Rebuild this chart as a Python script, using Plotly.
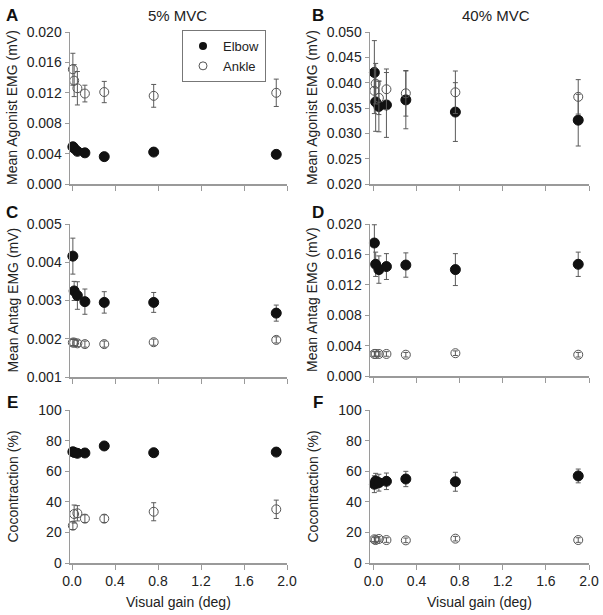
import plotly.graph_objects as go

W, H = 603, 615

# Visual gains (deg)
gain = [0.008, 0.02, 0.05, 0.12, 0.30, 0.76, 1.90]

# A: 5% MVC, mean agonist EMG (mV)
elbow_A = [0.0049, 0.0047, 0.0043, 0.0041, 0.0036, 0.0042, 0.0039]
elbow_A_err = [0.0003, 0.0003, 0.0002, 0.0002, 0.0002, 0.0002, 0.0002]
ankle_A = [0.0151, 0.0136, 0.0126, 0.0119, 0.0121, 0.0116, 0.0120]
ankle_A_err = [0.0021, 0.0021, 0.0022, 0.0011, 0.0014, 0.0015, 0.0018]

# B: 40% MVC, mean agonist EMG (mV)
elbow_B = [0.0420, 0.0362, 0.0353, 0.0356, 0.0366, 0.0342, 0.0326]
elbow_B_err = [0.0063, 0.0058, 0.0050, 0.0064, 0.0057, 0.0058, 0.0051]
ankle_B = [0.0384, 0.0398, 0.0370, 0.0387, 0.0379, 0.0381, 0.0372]
ankle_B_err = [0.0045, 0.0040, 0.0033, 0.0040, 0.0045, 0.0042, 0.0034]

# C: 5% MVC, mean antagonist EMG (mV)
elbow_C = [0.00416, 0.00325, 0.00313, 0.00297, 0.00295, 0.00295, 0.00267]
elbow_C_err = [0.00047, 0.00025, 0.00036, 0.00033, 0.00028, 0.00026, 0.00021]
ankle_C = [0.00190, 0.00190, 0.00188, 0.00186, 0.00186, 0.00191, 0.00197]
ankle_C_err = [0.00008, 0.00008, 0.00008, 0.00008, 0.00008, 0.00008, 0.00008]

# D: 40% MVC, mean antagonist EMG (mV)
elbow_D = [0.0175, 0.0147, 0.0140, 0.0144, 0.0146, 0.0140, 0.0147]
elbow_D_err = [0.0024, 0.0016, 0.0018, 0.0017, 0.0016, 0.0021, 0.0016]
ankle_D = [0.0029, 0.0029, 0.0029, 0.0029, 0.0028, 0.0030, 0.0028]
ankle_D_err = [0.0003, 0.0003, 0.0003, 0.0003, 0.0003, 0.0003, 0.0003]

# E: 5% MVC, cocontraction (%)
elbow_E = [72.7, 72.3, 71.7, 71.9, 76.5, 72.1, 72.5]
elbow_E_err = [1.5, 1.5, 1.5, 1.5, 1.5, 1.5, 2.0]
ankle_E = [24.4, 32.0, 32.5, 29.0, 29.0, 33.5, 35.1]
ankle_E_err = [2.5, 5.9, 5.0, 2.5, 2.5, 5.9, 6.0]

# F: 40% MVC, cocontraction (%)
elbow_F = [51.5, 53.6, 52.5, 53.4, 54.9, 53.1, 56.9]
elbow_F_err = [5.5, 5.0, 5.5, 5.4, 5.0, 6.2, 4.5]
ankle_F = [15.5, 15.0, 15.7, 15.0, 14.8, 15.9, 15.0]
ankle_F_err = [1.5, 1.5, 1.5, 1.5, 1.5, 1.5, 1.5]

x_ticks = [0.0, 0.4, 0.8, 1.2, 1.6, 2.0]
x_ticklabels = ["0.0", "0.4", "0.8", "1.2", "1.6", "2.0"]

FONT = "Liberation Sans, Arial, sans-serif"
AX = "#9a9a9a"
ERR = "#5a5a5a"

panels = [
    ("A", (70, 287), (32, 184), (0, 0.020), 0.004, ".3f", elbow_A, elbow_A_err, ankle_A, ankle_A_err, "Mean Agonist EMG (mV)"),
    ("B", (370, 589), (32, 184), (0.020, 0.050), 0.005, ".3f", elbow_B, elbow_B_err, ankle_B, ankle_B_err, "Mean Agonist EMG (mV)"),
    ("C", (70, 287), (224, 377), (0.001, 0.005), 0.001, ".3f", elbow_C, elbow_C_err, ankle_C, ankle_C_err, "Mean Antag EMG (mV)"),
    ("D", (370, 589), (224, 376), (0, 0.020), 0.004, ".3f", elbow_D, elbow_D_err, ankle_D, ankle_D_err, "Mean Antag EMG (mV)"),
    ("E", (70, 287), (410, 563), (0, 100), 20, "d", elbow_E, elbow_E_err, ankle_E, ankle_E_err, "Cocontraction (%)"),
    ("F", (370, 589), (410, 563), (0, 100), 20, "d", elbow_F, elbow_F_err, ankle_F, ankle_F_err, "Cocontraction (%)"),
]

fig = go.Figure()
annotations = []
layout = {}

for i, (letter, xpx, ypx, yr, dt, fmt, eb, ebe, an, ane, ytitle) in enumerate(panels):
    n = "" if i == 0 else str(i + 1)
    xa, ya = "x" + n, "y" + n
    xdom = [xpx[0] / W, xpx[1] / W]
    ydom = [1 - ypx[1] / H, 1 - ypx[0] / H]
    bottom = letter in ("E", "F")
    x0px = 72 if xpx[0] == 70 else 373.5
    xlow = (xpx[0] - x0px) / ((xpx[1] - x0px) / 2.0)
    layout["xaxis" + n] = dict(
        domain=xdom, anchor=ya, range=[xlow, 2.0],
        tickvals=x_ticks, ticktext=x_ticklabels, showticklabels=bottom,
        ticks="outside", ticklen=5, tickwidth=1, tickcolor=AX,
        showline=True, linecolor=AX, linewidth=1.5,
        showgrid=False, zeroline=False, automargin=False,
        tickfont=dict(size=14, color="#222", family=FONT),
    )
    layout["yaxis" + n] = dict(
        domain=ydom, anchor=xa, range=list(yr), dtick=dt, tick0=yr[0],
        tickformat=fmt, ticks="outside", ticklen=4, tickwidth=1, tickcolor=AX,
        showline=True, linecolor=AX, linewidth=1.5,
        showgrid=False, zeroline=False, automargin=False,
        tickfont=dict(size=14, color="#222", family=FONT),
    )
    fig.add_trace(go.Scatter(
        x=gain, y=eb, xaxis=xa, yaxis=ya, mode="markers", name="Elbow",
        showlegend=False, cliponaxis=False,
        marker=dict(symbol="circle", size=10, color="#111111",
                    line=dict(color="#111111", width=1)),
        error_y=dict(type="data", array=ebe, visible=True, color=ERR,
                     thickness=1, width=2.5),
    ))
    fig.add_trace(go.Scatter(
        x=gain, y=an, xaxis=xa, yaxis=ya, mode="markers", name="Ankle",
        showlegend=False, cliponaxis=False,
        marker=dict(symbol="circle-open", size=9, color="#555555",
                    line=dict(color="#555555", width=1)),
        error_y=dict(type="data", array=ane, visible=True, color=ERR,
                     thickness=1, width=2.5),
    ))
    lx = 12 if xpx[0] == 70 else 318
    ly = {32: 15, 224: 213, 410: 402}[ypx[0]]
    annotations.append(dict(text="<b>%s</b>" % letter, x=lx / W, y=1 - ly / H,
                            xref="paper", yref="paper", showarrow=False,
                            xanchor="center", yanchor="middle",
                            font=dict(size=17, color="#111", family=FONT)))
    tx = 12 if xpx[0] == 70 else 312
    annotations.append(dict(text=ytitle, x=tx / W, y=1 - (ypx[0] + ypx[1]) / 2 / H,
                            xref="paper", yref="paper", showarrow=False,
                            textangle=-90, xanchor="center", yanchor="middle",
                            font=dict(size=14, color="#222", family=FONT)))
    if bottom:
        annotations.append(dict(text="Visual gain (deg)", x=(xpx[0] + xpx[1]) / 2 / W,
                                y=1 - 602 / H, xref="paper", yref="paper",
                                showarrow=False, xanchor="center", yanchor="middle",
                                font=dict(size=14, color="#222", family=FONT)))

annotations.append(dict(text="5% MVC", x=177 / W, y=1 - 15 / H, xref="paper", yref="paper",
                        showarrow=False, xanchor="center", yanchor="middle",
                        font=dict(size=15, color="#222", family=FONT)))
annotations.append(dict(text="40% MVC", x=496 / W, y=1 - 15 / H, xref="paper", yref="paper",
                        showarrow=False, xanchor="center", yanchor="middle",
                        font=dict(size=15, color="#222", family=FONT)))

fig.add_trace(go.Scatter(x=[None], y=[None], mode="markers", name="Elbow",
                         marker=dict(symbol="circle", size=8, color="#111111")))
fig.add_trace(go.Scatter(x=[None], y=[None], mode="markers", name="Ankle",
                         marker=dict(symbol="circle-open", size=8, color="#555555",
                                     line=dict(width=1))))

fig.update_layout(
    width=W, height=H,
    margin=dict(l=0, r=0, t=0, b=0),
    paper_bgcolor="white", plot_bgcolor="white",
    font=dict(family=FONT, color="#222"),
    annotations=annotations,
    showlegend=True,
    hovermode=False,
    legend=dict(x=182 / W, y=1 - 30 / H, xanchor="left", yanchor="top",
                bordercolor="#777", borderwidth=1, bgcolor="white",
                font=dict(size=13, color="#222", family=FONT),
                itemwidth=30, tracegroupgap=0),
    **layout,
)

fig.write_html("out.html",
               config={"displayModeBar": False, "staticPlot": True},
               post_script="document.body.style.margin='0';document.body.style.overflow='hidden';")
